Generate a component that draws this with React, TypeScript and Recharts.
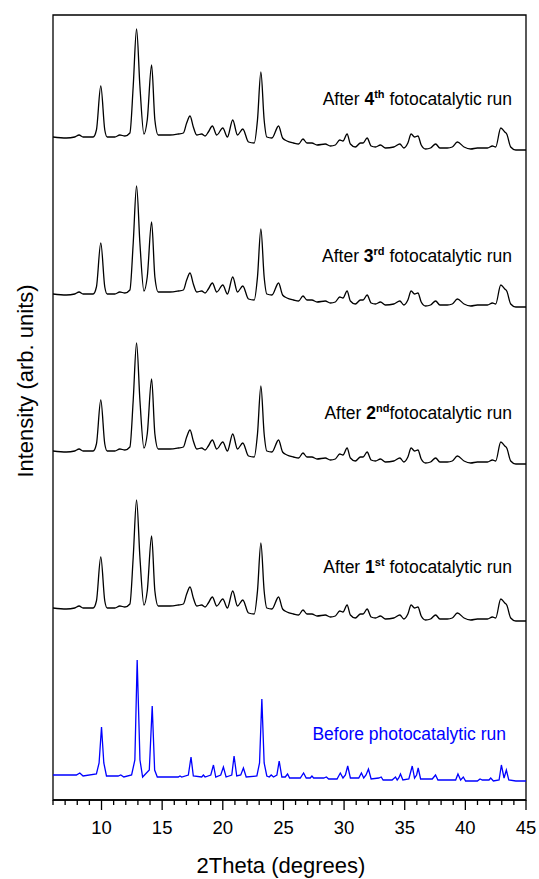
import type { FC } from "react";
import { LineChart, Line, XAxis, YAxis, ReferenceArea } from "recharts";

// 2θ positions shared by the four "after run" scans
const twoTheta = [
  6.0, 7.1, 7.79, 8.15, 8.48, 9.31, 9.58, 9.94, 10.27, 10.47,
  11.1, 11.51, 11.93, 12.34, 12.61, 12.89, 13.17, 13.5, 13.77, 14.13,
  14.4, 14.68, 15.64, 16.33, 16.75, 17.02, 17.3, 17.57, 17.85, 18.26,
  18.54, 18.81, 19.14, 19.5, 20.0, 20.38, 20.82, 21.21, 21.65, 22.12,
  22.59, 22.86, 23.14, 23.41, 23.63, 24.05, 24.6, 24.93, 25.29, 25.84,
  26.25, 26.61, 26.94, 27.35, 27.77, 28.45, 28.87, 29.28, 29.64, 29.91,
  30.25, 30.52, 30.93, 31.35, 31.57, 31.9, 32.23, 32.59, 33.0, 33.41,
  34.1, 34.6, 34.93, 35.26, 35.53, 35.81, 36.09, 36.36, 36.72, 37.13,
  37.55, 37.9, 38.51, 38.92, 39.34, 39.89, 40.44, 40.99, 41.82, 42.23,
  42.5, 42.92, 43.25, 43.41, 43.74, 44.16, 45.0,
];

// stacked intensities (arb. units)
const run4 = [
  663, 662, 663, 665, 663, 663, 670, 714, 670, 663,
  663, 665, 664, 667, 713, 771, 713, 666, 680, 735,
  680, 665, 665, 666, 667, 677, 684, 673, 665, 666,
  664, 668, 674, 665, 672, 663, 680, 665, 671, 658,
  657, 680, 728, 680, 663, 662, 674, 662, 659, 657,
  656, 661, 657, 657, 655, 656, 654, 655, 660, 659,
  666, 656, 653, 657, 657, 662, 654, 653, 655, 652,
  653, 656, 652, 657, 666, 663, 664, 655, 651, 652,
  656, 652, 652, 653, 658, 653, 651, 652, 652, 654,
  653, 672, 668, 666, 653, 650, 650,
];

const run3 = [
  506, 505, 506, 508, 506, 506, 513, 557, 513, 506,
  506, 508, 507, 510, 556, 614, 556, 509, 523, 578,
  523, 508, 508, 509, 510, 520, 527, 516, 508, 509,
  507, 511, 517, 508, 515, 506, 523, 508, 514, 501,
  500, 523, 571, 523, 506, 505, 517, 505, 502, 500,
  499, 504, 500, 500, 498, 499, 497, 498, 503, 502,
  509, 499, 496, 500, 500, 505, 497, 496, 498, 495,
  496, 499, 495, 500, 509, 506, 507, 498, 494, 495,
  499, 495, 495, 496, 501, 496, 494, 495, 495, 497,
  496, 515, 511, 509, 496, 493, 493,
];

const run2 = [
  349, 348, 349, 351, 349, 349, 356, 400, 356, 349,
  349, 351, 350, 353, 399, 457, 399, 352, 366, 421,
  366, 351, 351, 352, 353, 363, 370, 359, 351, 352,
  350, 354, 360, 351, 358, 349, 366, 351, 357, 344,
  343, 366, 414, 366, 349, 348, 360, 348, 345, 343,
  342, 347, 343, 343, 341, 342, 340, 341, 346, 345,
  352, 342, 339, 343, 343, 348, 340, 339, 341, 338,
  339, 342, 338, 343, 352, 349, 350, 341, 337, 338,
  342, 338, 338, 339, 344, 339, 337, 338, 338, 340,
  339, 358, 354, 352, 339, 336, 336,
];

const run1 = [
  192, 191, 192, 194, 192, 192, 199, 243, 199, 192,
  192, 194, 193, 196, 242, 300, 242, 195, 209, 264,
  209, 194, 194, 195, 196, 206, 213, 202, 194, 195,
  193, 197, 203, 194, 201, 192, 209, 194, 200, 187,
  186, 209, 257, 209, 192, 191, 203, 191, 188, 186,
  185, 190, 186, 186, 184, 185, 183, 184, 189, 188,
  195, 185, 182, 186, 186, 191, 183, 182, 184, 181,
  182, 185, 181, 186, 195, 192, 193, 184, 180, 181,
  185, 181, 181, 182, 187, 182, 180, 181, 181, 183,
  182, 201, 197, 195, 182, 179, 179,
];

// fresh sample, sharper peaks
const beforeTheta = [
  6.0, 7.93, 8.21, 8.48, 9.58, 9.8, 10.0, 10.19, 10.41, 11.37,
  11.59, 11.84, 12.48, 12.75, 12.94, 13.17, 13.39, 13.94, 14.18, 14.38,
  14.6, 16.33, 16.47, 16.61, 17.16, 17.38, 17.57, 18.26, 18.4, 18.54,
  19.01, 19.23, 19.42, 19.83, 20.05, 20.27, 20.74, 20.93, 21.15, 21.48,
  21.7, 21.93, 22.81, 23.03, 23.22, 23.41, 23.63, 23.83, 23.99, 24.18,
  24.46, 24.65, 24.87, 25.15, 25.34, 25.51, 26.39, 26.66, 26.88, 27.21,
  27.35, 27.49, 28.32, 28.54, 28.73, 29.42, 29.69, 29.91, 30.11, 30.3,
  30.52, 31.21, 31.43, 31.62, 31.81, 32.01, 32.23, 32.86, 33.06, 33.22,
  33.96, 34.24, 34.38, 34.51, 34.65, 34.85, 35.34, 35.62, 35.81, 35.98,
  36.11, 36.31, 37.27, 37.54, 37.74, 39.2, 39.39, 39.61, 39.83, 40.02,
  40.99, 41.21, 41.4, 41.95, 42.09, 42.31, 42.78, 42.97, 43.19, 43.38,
  43.58, 44.16, 45.0,
];

const beforeIntensity = [
  25, 25, 27, 24, 26, 37, 73, 37, 24, 24,
  25, 23, 25, 40, 140, 40, 23, 30, 94, 30,
  23, 23, 24, 23, 25, 43, 24, 23, 25, 23,
  25, 35, 23, 25, 33, 23, 25, 44, 24, 25,
  32, 23, 24, 37, 101, 37, 24, 23, 25, 23,
  25, 39, 23, 23, 26, 22, 22, 27, 22, 22,
  24, 22, 22, 23, 21, 21, 27, 22, 25, 34,
  22, 22, 27, 22, 25, 31, 21, 22, 23, 20,
  20, 23, 20, 22, 26, 20, 21, 34, 22, 25,
  32, 21, 21, 25, 20, 20, 26, 20, 23, 19,
  19, 21, 20, 20, 22, 19, 20, 35, 22, 30,
  20, 19, 19,
];

const xTicks = [
  6, 7, 8, 9, 10, 11, 12, 13, 14, 15, 16, 17, 18, 19, 20, 21, 22, 23, 24, 25,
  26, 27, 28, 29, 30, 31, 32, 33, 34, 35, 36, 37, 38, 39, 40, 41, 42, 43, 44, 45,
];

const FONT = "'Liberation Sans', Arial, sans-serif";
const W = 539;
const H = 879;

const toRows = (xs: number[], ys: number[]) => xs.map((t, i) => ({ t, v: ys[i] }));

const XTick: FC<any> = ({ x, y, payload }) => {
  const major = payload.value % 5 === 0;
  return (
    <g>
      <line x1={x} x2={x} y1={y} y2={y + (major ? 10 : 5)} stroke="#000" strokeWidth={1.3} />
      {major && (
        <text x={x} y={y + 34} textAnchor="middle" fontSize={18.5} fontFamily={FONT} fill="#000">
          {payload.value}
        </text>
      )}
    </g>
  );
};

interface RunLabelProps {
  y: number;
  n: string;
  sup: string;
  gap: boolean;
}

const RunLabel: FC<RunLabelProps> = ({ y, n, sup, gap }) => (
  <text x={512} y={y} textAnchor="end" fontSize={17.5} fontFamily={FONT} fill="#000">
    <tspan>After </tspan>
    <tspan fontWeight="bold">{n}</tspan>
    <tspan fontWeight="bold" fontSize={11} dy={-7}>{sup}</tspan>
    <tspan dy={7}>{gap ? " fotocatalytic run" : "fotocatalytic run"}</tspan>
  </text>
);

const App: FC = () => {
  const black = [run4, run3, run2, run1];
  return (
    <div style={{ position: "absolute", left: 0, top: 0, width: W, height: H, background: "#fff" }}>
      <LineChart width={W} height={H} margin={{ top: 15, right: 13, bottom: 0, left: 53 }}>
        <XAxis
          dataKey="t"
          type="number"
          domain={[6, 45]}
          ticks={xTicks}
          interval={0}
          allowDataOverflow
          height={79}
          tickSize={0}
          tickMargin={0}
          tickLine={false}
          tick={<XTick />}
          axisLine={{ stroke: "#000", strokeWidth: 1.3 }}
        />
        <YAxis type="number" domain={[0, 785]} allowDataOverflow hide width={0} />
        {/* plot frame */}
        <ReferenceArea
          x1={6}
          x2={45}
          y1={0}
          y2={785}
          fill="none"
          stroke="#000"
          strokeWidth={1.3}
          ifOverflow="visible"
        />
        {black.map((ys, i) => (
          <Line
            key={i}
            data={toRows(twoTheta, ys)}
            dataKey="v"
            type="monotone"
            stroke="#000"
            strokeWidth={1.3}
            dot={false}
            isAnimationActive={false}
          />
        ))}
        <Line
          data={toRows(beforeTheta, beforeIntensity)}
          dataKey="v"
          type="linear"
          stroke="#0000ff"
          strokeWidth={1.3}
          dot={false}
          isAnimationActive={false}
        />
      </LineChart>

      <svg
        width={W}
        height={H}
        style={{ position: "absolute", left: 0, top: 0, pointerEvents: "none" }}
      >
        <RunLabel y={105} n="4" sup="th" gap />
        <RunLabel y={262} n="3" sup="rd" gap />
        <RunLabel y={419} n="2" sup="nd" gap={false} />
        <RunLabel y={573} n="1" sup="st" gap />
        <text x={506} y={740} textAnchor="end" fontSize={17.5} fontFamily={FONT} fill="#0000ff">
          Before photocatalytic run
        </text>
        <text x={281} y={873} textAnchor="middle" fontSize={22} fontFamily={FONT} fill="#000">
          2Theta (degrees)
        </text>
        <text
          x={33}
          y={381}
          textAnchor="middle"
          fontSize={22}
          fontFamily={FONT}
          fill="#000"
          transform="rotate(-90, 33, 381)"
        >
          Intensity (arb. units)
        </text>
      </svg>
    </div>
  );
};

export default App;
